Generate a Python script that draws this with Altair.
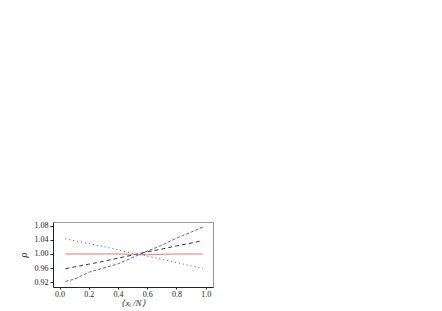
import altair as alt
import pandas as pd

x_vals = [0.04, 0.1, 0.2, 0.3, 0.4, 0.5, 0.6, 0.7, 0.8, 0.9, 0.98]
blue = [0.922, 0.928, 0.948, 0.960, 0.972, 0.990, 1.008, 1.025, 1.045, 1.062, 1.077]
black = [0.958, 0.963, 0.971, 0.979, 0.988, 0.997, 1.006, 1.014, 1.023, 1.031, 1.038]
dotted = [1.043, 1.038, 1.029, 1.021, 1.012, 1.002, 0.994, 0.985, 0.976, 0.966, 0.958]
red = [1.0, 1.0, 1.0, 1.0, 1.0, 0.999, 0.998, 0.999, 1.0, 1.0, 1.0]

x_ticks = [0.0, 0.2, 0.4, 0.6, 0.8, 1.0]
y_ticks = [0.92, 0.96, 1.00, 1.04, 1.08]

names = ["blue", "black", "dotted", "red"]
values = [blue, black, dotted, red]
colors = ["#5555ff", "#333333", "#555555", "#ff5555"]
dashes = [[3, 2], [4, 3], [1, 3], [1, 0]]

rows = []
for n, vals in zip(names, values):
    for xv, yv in zip(x_vals, vals):
        rows.append({"s": n, "x": xv, "y": yv})
df = pd.DataFrame(rows)

font = "Liberation Serif"
xs = alt.Scale(domain=[-0.045, 1.05], nice=False, zero=False)
ys = alt.Scale(domain=[0.906, 1.091], nice=False, zero=False)

xax = alt.Axis(values=x_ticks, format=".1f", title="⟨xᵢ /N⟩", titleFontStyle="italic",
               grid=False, tickSize=2, labelFont=font, titleFont=font, labelFontSize=8,
               titleFontSize=9, titleFontWeight="normal", domainColor="#222", tickColor="#222",
               labelColor="#222", titleColor="#222", labelPadding=1, titlePadding=0)
yax = alt.Axis(values=y_ticks, format=".2f", title="ρ", titleFontStyle="italic",
               grid=False, tickSize=3, labelFont=font, titleFont=font, labelFontSize=8,
               titleFontSize=10, titleFontWeight="normal", domainColor="#222", tickColor="#222",
               labelColor="#222", titleColor="#222", labelPadding=2, titlePadding=6)

chart = alt.Chart(df).mark_line(strokeWidth=1).encode(
    x=alt.X("x:Q", scale=xs, axis=xax),
    y=alt.Y("y:Q", scale=ys, axis=yax),
    color=alt.Color("s:N", scale=alt.Scale(domain=names, range=colors), legend=None),
    strokeDash=alt.StrokeDash("s:N", scale=alt.Scale(domain=names, range=dashes), legend=None),
).properties(
    width=160, height=65,
    autosize=alt.AutoSizeParams(type="none"),
    padding={"left": 45, "top": 214, "right": 10, "bottom": 24},
).configure_view(stroke="#999999", strokeWidth=1)

chart.save("out.html", embed_options={"renderer": "svg", "actions": False})
